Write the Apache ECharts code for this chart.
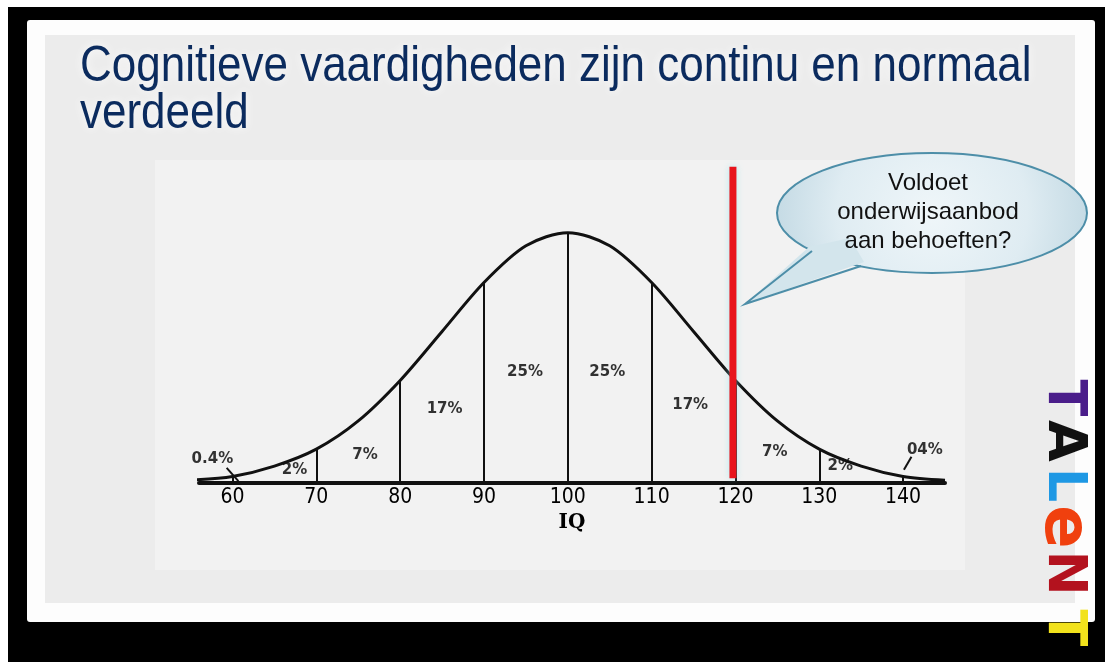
<!DOCTYPE html>
<html>
<head>
<meta charset="utf-8">
<script src="https://cdn.jsdelivr.net/npm/echarts@6/dist/echarts.min.js"></script>
<style>
  html, body { margin: 0; padding: 0; background: #fff; }
  #chart { width: 1105px; height: 662px; }
</style>
</head>
<body>
<div id="chart"></div>
<script>
var curveIQ = [55, 60, 65, 70, 75, 80, 85, 90, 95, 100, 105, 110, 115, 120, 125, 130, 135, 140, 145];
// curve height (% of population per IQ point)
var curveValue = [0.03, 0.07, 0.18, 0.36, 0.66, 1.09, 1.61, 2.13, 2.52, 2.66, 2.52, 2.13, 1.61, 1.09, 0.66, 0.36, 0.18, 0.07, 0.03];
// x axis tick labels
var tickLabels = [60, 70, 80, 90, 100, 110, 120, 130, 140];
// vertical band boundaries under the curve
var boundaryIQ = [60, 70, 80, 90, 100, 110, 120, 130, 140];
// band percentages and where they sit (IQ, height)
var bandLabels = ['0.4%', '2%', '7%', '17%', '25%', '25%', '17%', '7%', '2%', '04%'];
var bandLabelIQ = [57.6, 67.4, 75.8, 85.3, 94.9, 104.7, 114.6, 124.7, 132.5, 142.6];
var bandLabelLevel = [0.25, 0.14, 0.30, 0.78, 1.18, 1.18, 0.83, 0.33, 0.18, 0.35];
// small pointer lines from the 0.4% labels to the tails
var leaderFrom = [[59.3, 0.16], [141.0, 0.28]];
var leaderTo = [[60.7, 0.02], [140.1, 0.14]];
// red cut-off line
var cutoffIQ = 119.7;
var cutoffRange = [0.05, 3.36];

function heightAt(iq) {
  return curveValue[curveIQ.indexOf(iq)];
}

var chart = echarts.init(document.getElementById('chart'));

var bubbleFill = {
  type: 'radial', x: 0.5, y: 0.5, r: 1.3,
  colorStops: [{ offset: 0, color: '#eff6f9' }, { offset: 0.6, color: '#dfecf2' }, { offset: 1, color: '#c4dae4' }]
};

var logo = [
  { t: 'T', c: '#4a1d8a', y: 398 },
  { t: 'A', c: '#111111', y: 441 },
  { t: 'L', c: '#1e98e4', y: 485 },
  { t: 'e', c: '#f0400e', y: 527 },
  { t: 'N', c: '#b3121e', y: 573 },
  { t: 'T', c: '#f2e21c', y: 628 }
];

var option = {
  animation: false,
  grid: { left: 199, right: 160, top: 163, bottom: 179 },
  xAxis: {
    type: 'value',
    min: 56,
    max: 145,
    splitLine: { show: false },
    axisTick: { show: false },
    axisLine: { show: true, lineStyle: { color: '#111', width: 4 } },
    axisLabel: {
      customValues: tickLabels,
      color: '#000',
      fontSize: 21,
      fontFamily: 'DejaVu Sans Condensed, DejaVu Sans',
      margin: 4
    },
    name: 'IQ',
    nameLocation: 'middle',
    nameGap: 30,
    nameTextStyle: { color: '#000', fontSize: 20, fontWeight: 'bold', fontFamily: 'DejaVu Serif' }
  },
  yAxis: { type: 'value', min: 0, max: 3.4, show: false },
  graphic: [
    { type: 'rect', z: -10, silent: true, shape: { x: 8, y: 7, width: 1097, height: 655 }, style: { fill: '#000' } },
    { type: 'rect', z: -9, silent: true, shape: { x: 27, y: 20, width: 1068, height: 602, r: 3 }, style: { fill: '#fdfdfd' } },
    { type: 'rect', z: -8, silent: true, shape: { x: 45, y: 35, width: 1030, height: 568 }, style: { fill: '#ececec' } },
    { type: 'rect', z: -7, silent: true, shape: { x: 155, y: 160, width: 810, height: 410 }, style: { fill: '#f2f2f2' } },
    {
      type: 'text', z: 10, x: 80, y: 44, scaleY: 1.12,
      style: {
        text: 'Cognitieve vaardigheden zijn continu en normaal\nverdeeld',
        fill: '#0b2b5e',
        fontSize: 44,
        fontFamily: 'Liberation Sans',
        lineHeight: 42,
        textShadowColor: '#ffffff',
        textShadowBlur: 10
      }
    },
    // speech bubble
    {
      type: 'group', z: 20,
      children: [
        { type: 'ellipse', shape: { cx: 932, cy: 213, rx: 155, ry: 60 }, style: { fill: bubbleFill, stroke: '#4d8ea8', lineWidth: 2 } },
        { type: 'polygon', shape: { points: [[809, 247], [745, 304], [864, 262], [850, 238]] }, style: { fill: '#d3e5ec' } },
        { type: 'polyline', shape: { points: [[812, 251], [745, 304], [861, 266]] }, style: { stroke: '#4d8ea8', lineWidth: 2, fill: null } },
        {
          type: 'text', x: 928, y: 212,
          style: {
            text: 'Voldoet\nonderwijsaanbod\naan behoeften?',
            fill: '#111', fontSize: 24, fontFamily: 'Liberation Sans',
            lineHeight: 29, align: 'center', verticalAlign: 'middle'
          }
        }
      ]
    }
  ].concat(logo.map(function (l) {
    return {
      type: 'text', z: 30, x: 1063, y: l.y, rotation: -Math.PI / 2,
      style: {
        text: l.t, fill: l.c, fontSize: l.t === 'e' ? 64 : 54, fontWeight: 'bold',
        fontFamily: 'DejaVu Sans', align: 'center', verticalAlign: 'middle'
      }
    };
  })),
  series: [
    {
      type: 'line',
      smooth: 0.3,
      symbol: 'none',
      data: curveIQ.map(function (x, i) { return [x, curveValue[i]]; }),
      lineStyle: { color: '#111', width: 3 },
      markLine: {
        silent: true,
        symbol: ['none', 'none'],
        label: { show: false },
        lineStyle: { color: '#111', width: 2, type: 'solid' },
        data: boundaryIQ.map(function (b) {
          return [{ coord: [b, 0] }, { coord: [b, heightAt(b)] }];
        }).concat(leaderFrom.map(function (p, i) {
          return [{ coord: p }, { coord: leaderTo[i] }];
        }))
      }
    },
    {
      type: 'line',
      symbol: 'none',
      z: 5,
      data: [[cutoffIQ, cutoffRange[0]], [cutoffIQ, cutoffRange[1]]],
      lineStyle: { color: '#e8151d', width: 7, cap: 'butt', shadowColor: 'rgba(140,230,240,0.6)', shadowBlur: 6 }
    },
    {
      type: 'scatter',
      symbolSize: 1,
      itemStyle: { color: 'rgba(0,0,0,0)' },
      data: bandLabelIQ.map(function (x, i) { return [x, bandLabelLevel[i], bandLabels[i]]; }),
      label: {
        show: true,
        position: 'inside',
        formatter: function (p) { return p.data[2]; },
        color: '#000',
        fontSize: 15,
        fontWeight: 'bold',
        fontFamily: 'DejaVu Sans'
      }
    }
  ]
};

chart.setOption(option);
</script>
</body>
</html>
